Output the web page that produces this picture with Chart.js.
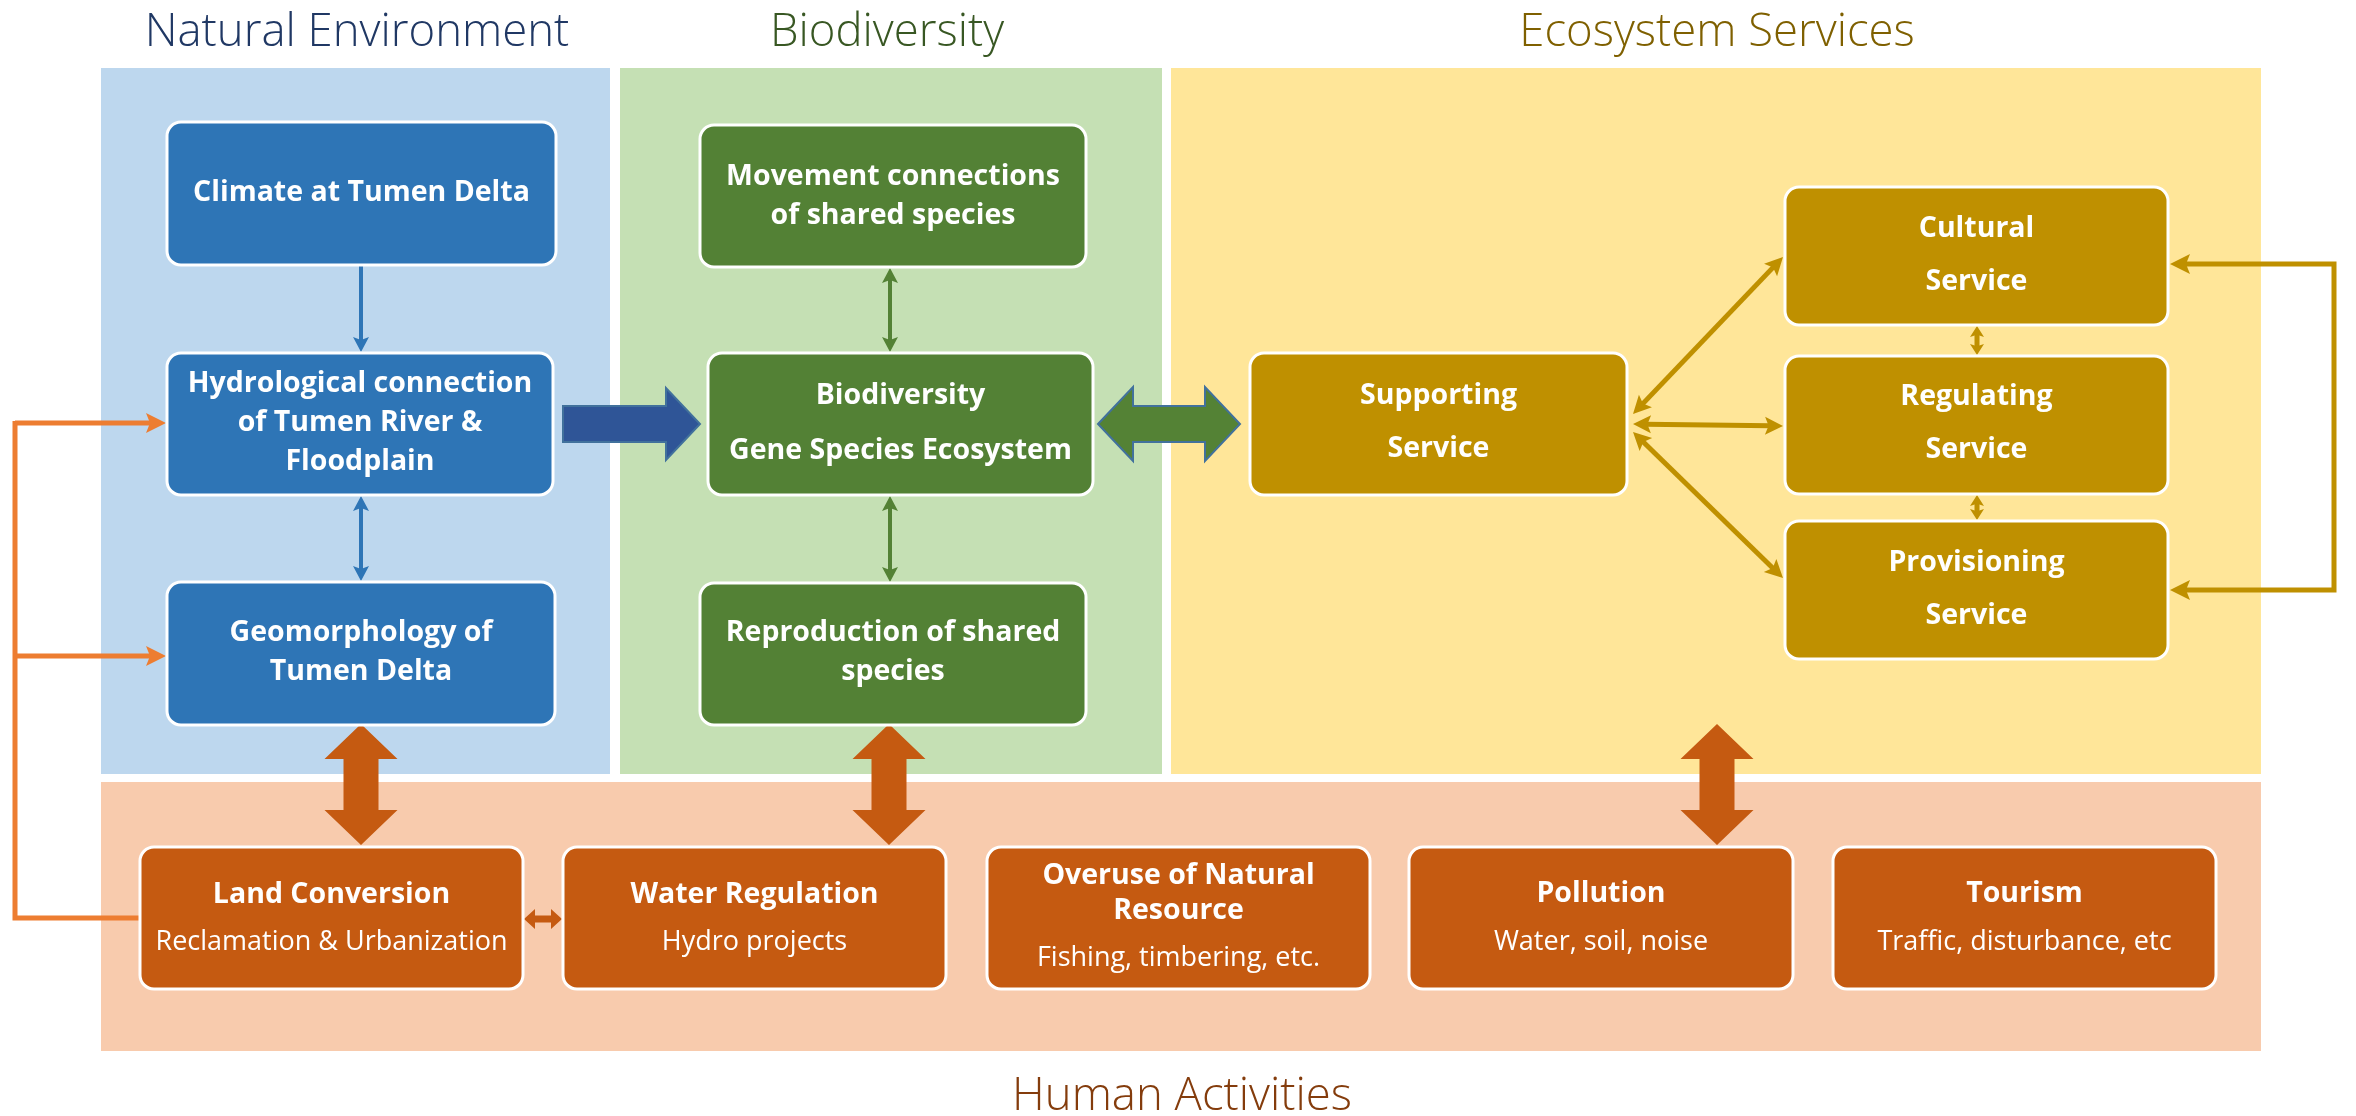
<!DOCTYPE html>
<html><head><meta charset="utf-8">
<script src="https://cdn.jsdelivr.net/npm/chart.js@4.4.0/dist/chart.umd.min.js"></script>
<style>html,body{margin:0;padding:0;background:#fff;overflow:hidden}</style>
</head><body>
<canvas id="c" width="2356" height="1116"></canvas>
<script>
// ---------- DATA (content of the diagram) ----------
const panelTitles = ['Natural Environment', 'Biodiversity', 'Ecosystem Services', 'Human Activities'];
const natureNodes = [['Climate at Tumen Delta'], ['Hydrological connection', 'of Tumen River &', 'Floodplain'], ['Geomorphology of', 'Tumen Delta']];
const bioNodes = [['Movement connections', 'of shared species'], ['Biodiversity', 'Gene Species Ecosystem'], ['Reproduction of shared', 'species']];
const serviceNodes = [['Supporting', 'Service'], ['Cultural', 'Service'], ['Regulating', 'Service'], ['Provisioning', 'Service']];
const humanTitles = [['Land Conversion'], ['Water Regulation'], ['Overuse of Natural', 'Resource'], ['Pollution'], ['Tourism']];
const humanDetails = ['Reclamation & Urbanization', 'Hydro projects', 'Fishing, timbering, etc.', 'Water, soil, noise', 'Traffic, disturbance, etc'];
// links: [from, to, kind]
const links = [
  ['N0', 'N1', 'thin'], ['N1', 'N2', 'thin2'],
  ['B0', 'B1', 'thin2'], ['B1', 'B2', 'thin2'],
  ['N1', 'B1', 'block'], ['B1', 'S0', 'block2'],
  ['S0', 'S1', 'gold'], ['S0', 'S2', 'gold'], ['S0', 'S3', 'gold'],
  ['S1', 'S2', 'thin2'], ['S2', 'S3', 'thin2'], ['S3', 'S1', 'loop'],
  ['H0', 'N1', 'elbow'], ['H0', 'N2', 'elbow'], ['H0', 'H1', 'small2'],
  ['N2', 'H0', 'vblock'], ['B2', 'H1', 'vblock'], ['S0', 'H3', 'vblock']
];

// ---------- LAYOUT (positions / styles, in a 2356 x 1116 value space) ----------
const panelRects = [[101, 68, 610, 774], [620, 68, 1162, 774], [1171, 68, 2261, 774], [101, 782, 2261, 1051]];
const panelFill = ['#BDD7EE', '#C5E0B4', '#FFE699', '#F8CBAD'];
const titleAt = [[357, 46], [887, 46], [1717, 46], [1182, 1110]];
const titleColor = ['#203864', '#385723', '#7F6000', '#843C0C'];
const boxes = {
  N0: [167, 122, 556, 265], N1: [167, 353, 553, 495], N2: [167, 582, 555, 725],
  B0: [700, 125, 1086, 267], B1: [708, 353, 1093, 495], B2: [700, 583, 1086, 725],
  S0: [1250, 353, 1627, 495], S1: [1785, 187, 2168, 325], S2: [1785, 356, 2168, 494], S3: [1785, 521, 2168, 659],
  H0: [140, 847, 523, 989], H1: [563, 847, 946, 989], H2: [987, 847, 1370, 989], H3: [1409, 847, 1793, 989], H4: [1833, 847, 2216, 989]
};
const lineYs = {
  N0: [193], N1: [384, 423, 462], N2: [633, 672],
  B0: [177, 216], B1: [396, 451], B2: [633, 672],
  S0: [396, 449], S1: [229, 282], S2: [397, 450], S3: [563, 616],
  H0: [895, 942], H1: [895, 942], H2: [876, 911, 958], H3: [894, 942], H4: [894, 942]
};
const boxFill = { N: '#2E75B6', B: '#538135', S: '#BF9000', H: '#C55A11' };

function nodeLines(id) {
  const g = id[0], i = +id.slice(1);
  if (g === 'N') return natureNodes[i].map(t => [t, true]);
  if (g === 'B') return bioNodes[i].map(t => [t, true]);
  if (g === 'S') return serviceNodes[i].map(t => [t, true]);
  return humanTitles[i].map(t => [t, true]).concat([[humanDetails[i], false]]);
}

const centers = Object.keys(boxes).map(k => ({ x: (boxes[k][0] + boxes[k][2]) / 2, y: (boxes[k][1] + boxes[k][3]) / 2 }));

const diagramPlugin = {
  id: 'diagram',
  beforeDatasetsDraw(chart) {
    const ctx = chart.ctx, xs = chart.scales.x, ys = chart.scales.y;
    const X = v => xs.getPixelForValue(v), Y = v => ys.getPixelForValue(v);
    ctx.save();
    // panels
    panelRects.forEach((r, i) => {
      ctx.fillStyle = panelFill[i];
      ctx.fillRect(X(r[0]), Y(r[1]), X(r[2]) - X(r[0]), Y(r[3]) - Y(r[1]));
    });
    // titles
    ctx.textAlign = 'center'; ctx.textBaseline = 'alphabetic';
    panelTitles.forEach((t, i) => {
      ctx.font = '300 45.5px "Open Sans"';
      ctx.fillStyle = titleColor[i];
      ctx.fillText(t, X(titleAt[i][0]), Y(titleAt[i][1]));
    });

    function poly(pts, fill, stroke, lw) {
      ctx.beginPath();
      pts.forEach((p, k) => k ? ctx.lineTo(p[0], p[1]) : ctx.moveTo(p[0], p[1]));
      ctx.closePath();
      ctx.fillStyle = fill; ctx.fill();
      if (stroke) { ctx.lineWidth = lw; ctx.strokeStyle = stroke; ctx.lineJoin = 'miter'; ctx.stroke(); }
    }
    // block arrow along axis from (x1,y1) to (x2,y2)
    function block(x1, y1, x2, y2, sh, hh, hl, dbl, fill, stroke) {
      const a = [X(x1), Y(y1)], b = [X(x2), Y(y2)];
      const L = Math.hypot(b[0] - a[0], b[1] - a[1]);
      const ux = (b[0] - a[0]) / L, uy = (b[1] - a[1]) / L, nx = -uy, ny = ux;
      const P = (s, t) => [a[0] + ux * s + nx * t, a[1] + uy * s + ny * t];
      let pts;
      if (dbl) pts = [P(0, 0), P(hl, -hh), P(hl, -sh), P(L - hl, -sh), P(L - hl, -hh), P(L, 0), P(L - hl, hh), P(L - hl, sh), P(hl, sh), P(hl, hh)];
      else pts = [P(0, -sh), P(L - hl, -sh), P(L - hl, -hh), P(L, 0), P(L - hl, hh), P(L - hl, sh), P(0, sh)];
      poly(pts, fill, stroke, 2);
    }
    function head(tip, from, len, half, color) {
      const L = Math.hypot(tip[0] - from[0], tip[1] - from[1]);
      const ux = (tip[0] - from[0]) / L, uy = (tip[1] - from[1]) / L;
      const bx = tip[0] - ux * len, by = tip[1] - uy * len;
      poly([tip, [bx - uy * half, by + ux * half], [tip[0] - ux * len * 0.8, tip[1] - uy * len * 0.8], [bx + uy * half, by - ux * half]], color);
    }
    // polyline with heads at start/end
    function arrowLine(pts, lw, color, hs, he, len, half) {
      const p = pts.map(q => [X(q[0]), Y(q[1])]);
      const q = p.map(v => v.slice());
      const shorten = (i, j) => {
        const L = Math.hypot(q[i][0] - q[j][0], q[i][1] - q[j][1]);
        q[i][0] -= (q[i][0] - q[j][0]) / L * len * 0.7; q[i][1] -= (q[i][1] - q[j][1]) / L * len * 0.7;
      };
      if (hs) shorten(0, 1);
      if (he) shorten(q.length - 1, q.length - 2);
      ctx.beginPath();
      q.forEach((v, k) => k ? ctx.lineTo(v[0], v[1]) : ctx.moveTo(v[0], v[1]));
      ctx.lineWidth = lw; ctx.strokeStyle = color; ctx.lineJoin = 'miter'; ctx.lineCap = 'butt'; ctx.stroke();
      if (hs) head(p[0], p[1], len, half, color);
      if (he) head(p[p.length - 1], p[p.length - 2], len, half, color);
    }

    // connectors behind boxes
    const bx = id => boxes[id];
    links.forEach(([f, t, kind]) => {
      const A = bx(f), B = bx(t);
      if (kind === 'thin' || kind === 'thin2') {
        const col = boxFill[f[0]];
        const isS = f[0] === 'S';
        const x = isS ? 1977 : (f[0] === 'N' ? 361 : 890);
        arrowLine([[x, A[3] + 1], [x, B[1] - 1]], isS ? 5 : 4, col, kind === 'thin2', true, isS ? 11 : 15, isS ? 7 : 8);
      } else if (kind === 'block') {
        block(A[2] + 10, 424, B[0] - 8, 424, 18, 36, 34, false, '#2F5597', '#41719C');
      } else if (kind === 'block2') {
        block(A[2] + 5, 424, B[0] - 10, 424, 18, 37, 35, true, '#548235', '#41719C');
      } else if (kind === 'gold') {
        const ty = { S1: 257, S2: 426, S3: 578 }[t];
        const sy = { S1: 414, S2: 424, S3: 432 }[t];
        arrowLine([[A[2] + 6, sy], [B[0] - 2, ty]], 5, '#BF9000', true, true, 18, 9);
      } else if (kind === 'loop') {
        arrowLine([[A[2] + 2, 590], [2334, 590], [2334, 264], [B[2] + 2, 264]], 5, '#BF9000', true, true, 20, 10);
      } else if (kind === 'elbow') {
        const ty = t === 'N1' ? 423 : 656;
        arrowLine([[15, ty], [B[0] - 1, ty]], 5, '#ED7D31', false, true, 20, 10);
        if (t === 'N1') {
          ctx.beginPath();
          ctx.moveTo(X(A[0]), Y(918)); ctx.lineTo(X(15), Y(918)); ctx.lineTo(X(15), Y(421));
          ctx.lineWidth = 5; ctx.strokeStyle = '#ED7D31'; ctx.stroke();
        }
      } else if (kind === 'small2') {
        block(A[2] + 1, 919, B[0] - 1, 919, 3.5, 10, 11, true, '#C55A11', null);
      } else if (kind === 'vblock') {
        const xx = f === 'S0' ? 1717 : (f === 'N2' ? 361 : 889);
        block(xx, 724, xx, 845, 17.5, 36.5, 35, true, '#C55A11', null);
      }
    });

    // boxes
    Object.keys(boxes).forEach(id => {
      const r = boxes[id];
      const x0 = X(r[0]), y0 = Y(r[1]), w = X(r[2]) - x0, h = Y(r[3]) - y0;
      ctx.beginPath();
      ctx.roundRect(x0, y0, w, h, 14);
      ctx.fillStyle = boxFill[id[0]]; ctx.fill();
      ctx.lineWidth = 3; ctx.strokeStyle = '#FFFFFF'; ctx.stroke();
      const lines = nodeLines(id), ysl = lineYs[id];
      ctx.fillStyle = '#FFFFFF'; ctx.textAlign = 'center'; ctx.textBaseline = 'middle';
      lines.forEach(([t, bold], k) => {
        ctx.font = bold ? '700 28.5px "Open Sans"' : '400 27px "Open Sans"';
        ctx.fillText(t, X((r[0] + r[2]) / 2), Y(ysl[k]));
      });
    });
    ctx.restore();
  }
};

new Chart(document.getElementById('c'), {
  type: 'scatter',
  data: { datasets: [{ data: centers, pointRadius: 0, pointHoverRadius: 0 }] },
  options: {
    responsive: false, animation: false, devicePixelRatio: 1,
    layout: { padding: 0 },
    plugins: { legend: { display: false }, tooltip: { enabled: false } },
    events: [],
    scales: {
      x: { type: 'linear', min: 0, max: 2356, display: false },
      y: { type: 'linear', min: 0, max: 1116, reverse: true, display: false }
    }
  },
  plugins: [diagramPlugin]
});
</script>
</body></html>
